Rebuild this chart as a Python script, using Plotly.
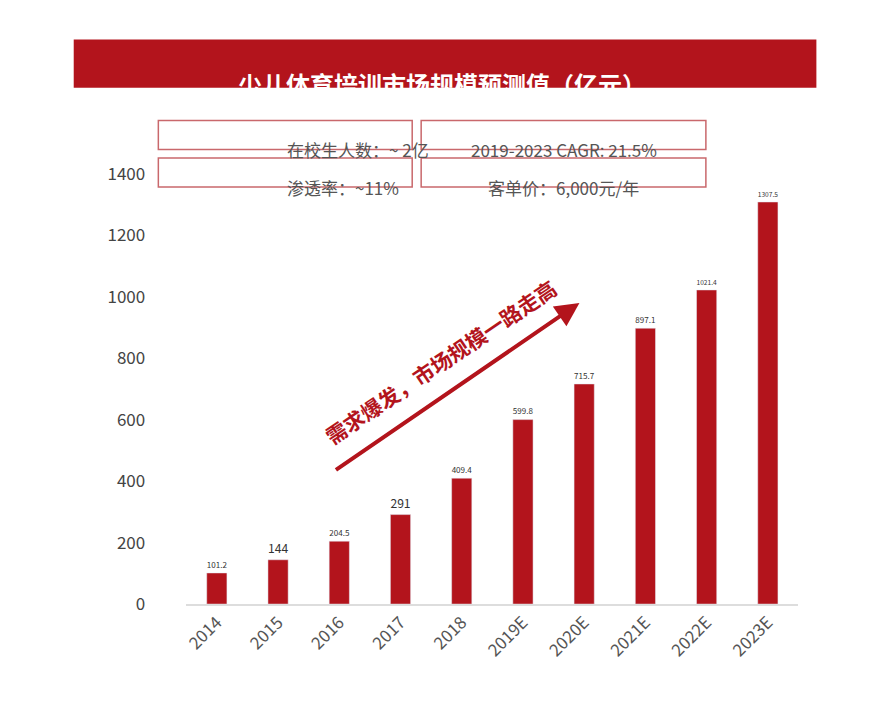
import plotly.graph_objects as go

years = ['2014', '2015', '2016', '2017', '2018', '2019E', '2020E', '2021E', '2022E', '2023E']
market = [101.2, 144, 204.5, 291, 409.4, 599.8, 715.7, 897.1, 1021.4, 1307.5]
value_labels = ['101.2', '144', '204.5', '291', '409.4', '599.8', '715.7', '897.1', '1021.4', '1307.5']
y_ticks = [0, 200, 400, 600, 800, 1000, 1200, 1400]
info_boxes = ['在校生人数：~ 2亿', '2019-2023 CAGR: 21.5%', '渗透率：~11%', '客单价：6,000元/年']

W, H = 894, 720
RED = '#b3141c'

fig = go.Figure(go.Bar(
    x=years, y=market, marker_color=RED, width=0.33,
    text=value_labels, textposition='outside', cliponaxis=False,
    textfont=dict(size=17, color='#333333', family='Noto Sans CJK SC'),
))

def px_x(p):
    return p / W

def px_y(p):
    return 1 - p / H

shapes = []
annotations = []

# title banner
shapes.append(dict(type='rect', xref='paper', yref='paper', x0=px_x(62), x1=px_x(808),
                   y0=px_y(68), y1=px_y(18), fillcolor=RED, line_width=0))
annotations.append(dict(xref='paper', yref='paper', x=px_x(432), y=px_y(44), showarrow=False,
                        text='<b>少儿体育培训市场规模预测值（亿元）</b>',
                        font=dict(size=24, color='white', family='Noto Sans CJK SC')))

# info boxes
boxes = [(147, 402, 102, 132), (411, 697, 102, 132), (147, 402, 141, 171), (411, 697, 141, 171)]
for (x0, x1, y0, y1), txt in zip(boxes, info_boxes):
    shapes.append(dict(type='rect', xref='paper', yref='paper', x0=px_x(x0), x1=px_x(x1),
                       y0=px_y(y1), y1=px_y(y0), line=dict(color='#c9686c', width=1.5),
                       fillcolor='white'))
    annotations.append(dict(xref='paper', yref='paper', x=px_x((x0 + x1) / 2), y=px_y((y0 + y1) / 2),
                            showarrow=False, text=txt,
                            font=dict(size=17, color='#555555', family='Noto Sans CJK SC')))

# growth arrow
annotations.append(dict(xref='paper', yref='paper',
                        x=px_x(570), y=px_y(291), ax=-245, ay=168,
                        showarrow=True, arrowhead=2, arrowsize=1.2, arrowwidth=4,
                        arrowcolor=RED, text=''))
annotations.append(dict(xref='paper', yref='paper', x=px_x(430), y=px_y(352), showarrow=False,
                        text='<b>需求爆发，市场规模一路走高</b>', textangle=-34,
                        font=dict(size=21, color=RED, family='Noto Sans CJK SC')))

fig.update_layout(
    width=W, height=H, margin=dict(l=0, r=0, t=0, b=0),
    paper_bgcolor='white', plot_bgcolor='white', showlegend=False,
    shapes=shapes, annotations=annotations,
    font=dict(family='Noto Sans CJK SC'),
)
fig.update_xaxes(domain=[px_x(175), px_x(790)], tickangle=-45, showgrid=False,
                 showline=True, linecolor='#dddddd', linewidth=1.5,
                 tickfont=dict(size=17, color='#555555'))
fig.update_yaxes(domain=[px_y(603), px_y(157)], range=[0, 1400], tickvals=y_ticks,
                 showgrid=False, zeroline=False, ticklabelstandoff=40,
                 tickfont=dict(size=17, color='#444444'))

fig.write_html('out.html')
